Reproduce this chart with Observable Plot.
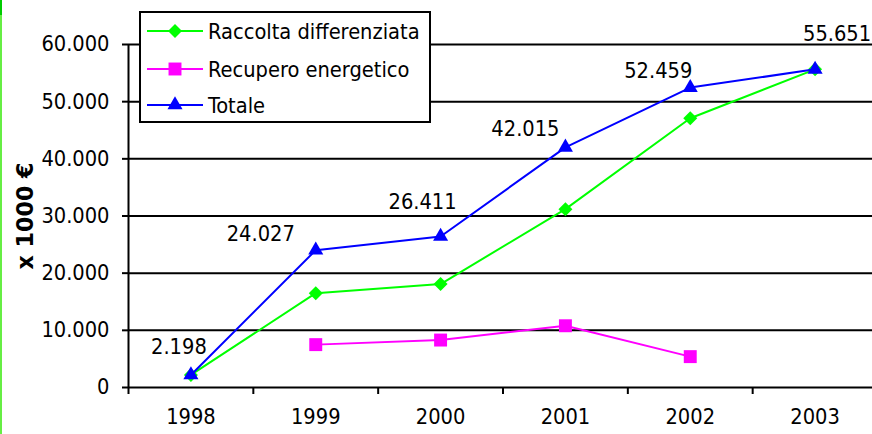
<!DOCTYPE html>
<html><head><meta charset="utf-8">
<script src="https://cdn.jsdelivr.net/npm/d3@7"></script>
<script src="https://cdn.jsdelivr.net/npm/@observablehq/plot@0.6"></script>
<style>
html,body{margin:0;padding:0;background:#fff;}
#wrap{position:relative;width:872px;height:434px;overflow:hidden;background:#fff;}
#edge{position:absolute;left:0;top:0;width:2px;height:434px;background:#66ee44;}
#edge2{position:absolute;left:0;top:0;width:2px;height:15px;background:#00cc00;}
#legend{position:absolute;left:139px;top:11px;width:292px;height:112px;border:2px solid #000;background:#fff;box-sizing:border-box;}
.row{position:absolute;left:0;height:30px;display:flex;align-items:center;white-space:nowrap;color:#000;}
.row svg{display:block;}
</style></head>
<body><div id="wrap"><div id="edge"></div><div id="edge2"></div></div>
<script>
// ---- data ----
const years = [1998, 1999, 2000, 2001, 2002, 2003];
const raccolta = [2198, 16500, 18100, 31200, 47100, 55651];
const recupero = [null, 7500, 8300, 10800, 5400, null];
const totale = [2198, 24027, 26411, 42015, 52459, 55651];
const yTicks = [0, 10000, 20000, 30000, 40000, 50000, 60000];
const seriesNames = ["Raccolta differenziata", "Recupero energetico", "Totale"];
const yTitle = "x 1000 €";

// ---- style / layout ----
const seriesColors = ["#00ff00", "#ff00ff", "#0000ff"];
const seriesSymbols = ["diamond2", "square", "triangle"];
const seriesR = [6.3, 7.3, 5.6];
const labelOffsets = [[-12, -28], [-55, -16], [-18, -34], [-40, -18], [-32, -17], [22, -35]];

function textWidth(font, s) {
  const c = document.createElement("canvas").getContext("2d");
  c.font = font; return c.measureText(s).width;
}
function hasFont(name) {
  const s = "mmmmmmmmmmlli1234567890WwQq";
  for (const fb of ["monospace", "serif"]) {
    if (Math.abs(textWidth(`40px "${name}", ${fb}`, s) - textWidth(`40px ${fb}`, s)) > 0.5) return true;
  }
  return false;
}
const fam = ["DejaVu Sans Condensed", "Liberation Sans Narrow", "DejaVu Sans", "Liberation Sans"].find(hasFont) || "sans-serif";
const FS = +(211.7 / (textWidth(`100px "${fam}"`, seriesNames[0]) / 100)).toFixed(2);
const FONT = `"${fam}", sans-serif`;
const famB = ["DejaVu Sans", "Verdana", "Liberation Sans"].find(hasFont) || fam;
const FSB = +(107 / (textWidth(`bold 100px "${famB}"`, yTitle) / 100)).toFixed(2);

const it = d3.formatLocale({decimal: ",", thousands: ".", grouping: [3], currency: ["", "€"]});
const fmt = it.format(",d");

const seriesValues = [raccolta, recupero, totale];
const rows = seriesValues.map((vals, s) =>
  years.map((yr, i) => ({year: yr, value: vals[i], series: seriesNames[s]})).filter(d => d.value != null));

const xDomain = [years[0] - 0.5, years[years.length - 1] + 0.5];
const boundaries = d3.range(years.length + 1).map(i => xDomain[0] + i);

const marks = [
  Plot.gridY(yTicks, {stroke: "#000", strokeOpacity: 1, strokeWidth: 2}),
  Plot.ruleX([xDomain[0]], {stroke: "#000", strokeWidth: 2}),
  Plot.axisY(yTicks, {tickSize: 6, tickPadding: 13, tickFormat: fmt, strokeWidth: 2, label: null}),
  Plot.axisX(boundaries, {tickSize: 7, tickFormat: () => "", strokeWidth: 2, label: null}),
  Plot.axisX(years, {tickSize: 0, tickPadding: 21, tickFormat: d => String(d), label: null})
];
rows.forEach((r, s) => {
  marks.push(Plot.line(r, {x: "year", y: "value", stroke: seriesColors[s], strokeWidth: 2}));
  marks.push(Plot.dot(r, {x: "year", y: "value", symbol: seriesSymbols[s], r: seriesR[s], fill: seriesColors[s], stroke: "none"}));
});
years.forEach((yr, i) => {
  marks.push(Plot.text([{year: yr, value: totale[i]}], {
    x: "year", y: "value", text: d => fmt(d.value),
    dx: labelOffsets[i][0], dy: labelOffsets[i][1], fill: "#000"
  }));
});

const chart = Plot.plot({
  width: 872, height: 434,
  marginLeft: 128, marginRight: -5, marginTop: 44, marginBottom: 47,
  x: {type: "linear", domain: xDomain, label: null, axis: null},
  y: {domain: [0, 60000], label: null, axis: null},
  style: {fontFamily: FONT, fontSize: FS + "px", color: "#000", background: "transparent", overflow: "visible"},
  marks
});
d3.select(chart).append("text")
  .attr("transform", "translate(25,216) rotate(-90)")
  .attr("text-anchor", "middle").attr("dominant-baseline", "central")
  .attr("font-weight", "bold").attr("font-family", `"${famB}", sans-serif`).attr("font-size", FSB)
  .attr("fill", "#000").text(yTitle);
chart.style.position = "absolute"; chart.style.left = "0"; chart.style.top = "0";
const wrap = document.getElementById("wrap");
wrap.insertBefore(chart, wrap.firstChild);

// legend
const leg = document.createElement("div"); leg.id = "legend";
const rowCenters = [20, 58, 94];
seriesNames.forEach((name, s) => {
  const row = document.createElement("div"); row.className = "row";
  row.style.top = (rowCenters[s] - 2 - 15) + "px";
  row.style.fontFamily = FONT; row.style.fontSize = FS + "px";
  const svg = d3.create("svg").attr("width", 67).attr("height", 30);
  svg.append("line").attr("x1", 6).attr("x2", 62).attr("y1", 15).attr("y2", 15)
    .attr("stroke", seriesColors[s]).attr("stroke-width", 2);
  const sym = {diamond2: d3.symbolDiamond2, square: d3.symbolSquare, triangle: d3.symbolTriangle}[seriesSymbols[s]];
  svg.append("path").attr("transform", "translate(34,15)")
    .attr("d", d3.symbol(sym, Math.PI * seriesR[s] * seriesR[s])())
    .attr("fill", seriesColors[s]);
  row.appendChild(svg.node());
  const t = document.createElement("span"); t.textContent = name; row.appendChild(t);
  leg.appendChild(row);
});
wrap.appendChild(leg);
</script>
</body></html>
